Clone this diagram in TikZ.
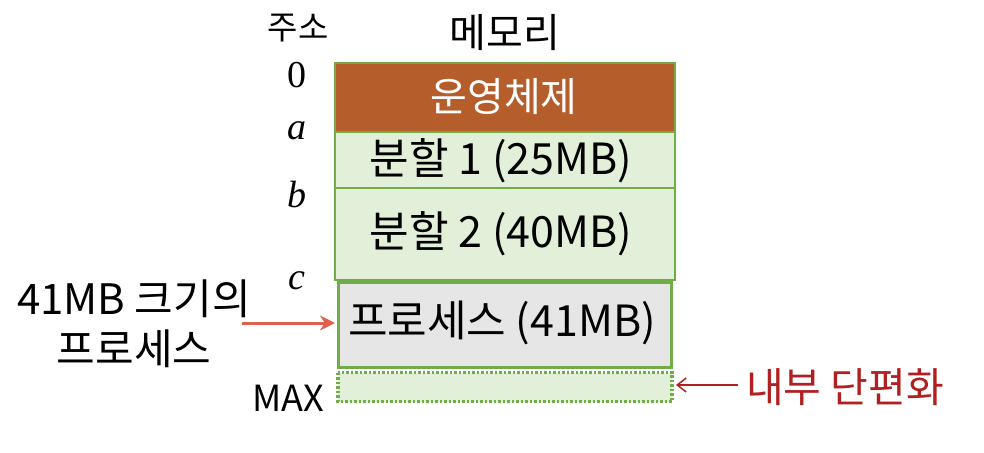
\documentclass[tikz,border=0pt]{standalone}
\usepackage{fontspec}
\setmainfont{Liberation Serif}
\newfontfamily\kr{Noto Sans CJK KR}
\usetikzlibrary{arrows.meta}
\definecolor{osbrown}{RGB}{182,94,43}
\definecolor{grn}{RGB}{112,173,71}
\definecolor{lgrn}{RGB}{226,239,217}
\definecolor{lgray}{RGB}{230,230,230}
\definecolor{salmon}{RGB}{224,96,78}
\definecolor{dred}{RGB}{176,32,32}
\tikzset{
  seg/.style={draw=grn, line width=1.5pt, fill=lgrn},
  lbl/.style={font=\kr\fontsize{43}{48}\selectfont, inner sep=0pt},
  addr/.style={font=\fontsize{38}{42}\selectfont\itshape, inner sep=0pt},
}
\begin{document}
\begin{tikzpicture}[x=1pt,y=-1pt]
\useasboundingbox (0,0) rectangle (984,452);
% segments
\draw[seg, fill=osbrown] (335,63) rectangle (675,132);
\draw[seg] (335,132) rectangle (675,188);
\draw[seg] (335,188) rectangle (675,280);
\draw[draw=grn, line width=3.5pt, fill=lgray] (338.5,282.5) rectangle (671.5,367.5);
\draw[draw=grn, line width=3.5pt, fill=lgrn, dash pattern=on 2.5pt off 2pt] (338,372.5) rectangle (672,401.5);
% labels
\node[lbl, text=white, font=\kr\fontsize{40}{44}\selectfont] (os) at (504,97) {운영체제};
\node[lbl] (p1) at (501,161) {분할 1 (25MB)};
\node[lbl] (p2) at (501,234) {분할 2 (40MB)};
\node[lbl] (proc) at (502,323) {프로세스 (41MB)};
\coordinate (procL) at (335,323);
\coordinate (fragR) at (676,385);
\node[font=\kr\fontsize{33}{36}\selectfont, inner sep=0pt] (juso) at (298,28) {주소};
\node[lbl, font=\kr\fontsize{40}{44}\selectfont] (mem) at (505,33) {메모리};
\node[font=\fontsize{38}{42}\selectfont, inner sep=0pt] (a0) at (297,75) {0};
\node[addr] (aa) at (297,131) {a};
\node[addr] (ab) at (297,195) {b};
\node[addr] (ac) at (297,281) {c};
\node[font=\kr\fontsize{36}{40}\selectfont, inner sep=0pt] (amax) at (288,398) {MAX};
\node[lbl, align=center, font=\kr\fontsize{42}{50}\selectfont] (left) at (134,324) {41MB 크기의\\프로세스};
\coordinate (leftR) at (242,323);
\draw[salmon, line width=3pt, -{Stealth[length=15pt,width=15pt]}] (leftR) -- (procL);
\node[lbl, text=dred, font=\kr\fontsize{41}{46}\selectfont] (frag) at (845,387) {내부 단편화};
\draw[dred, line width=1.5pt, -{Straight Barb[length=9pt,width=14pt]}] (frag.west) ++(-8,-2) -- (fragR);
\end{tikzpicture}
\end{document}
